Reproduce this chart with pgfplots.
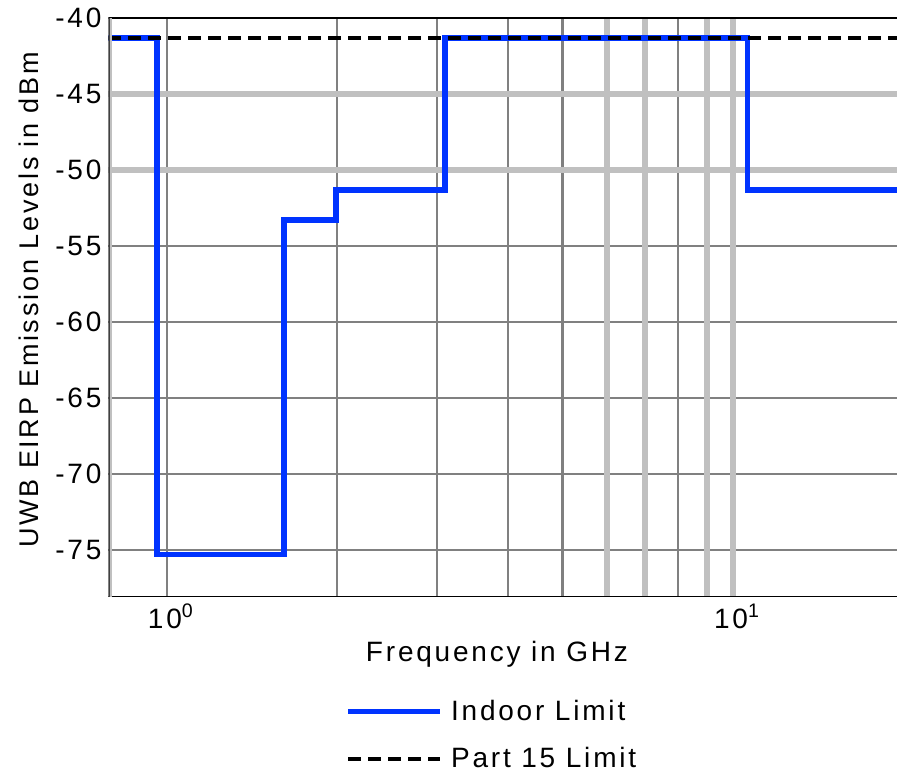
\documentclass[border=0pt]{standalone}
\usepackage{pgfplots}
\pgfplotsset{compat=1.18}
\usepackage{fontspec}
\setmainfont{Liberation Sans}[LetterSpace=10]
\definecolor{uwbblue}{HTML}{0033FF}
\definecolor{gdark}{HTML}{808080}
\definecolor{glight}{HTML}{C0C0C0}
\begin{document}
\begin{tikzpicture}[font=\fontsize{14}{17}\selectfont]
\begin{axis}[
  scale only axis, width=394.25pt, height=289.5pt,
  xmode=log, xmin=0.789, xmax=19.48, ymin=-78.1, ymax=-40,
  axis line style={draw=none},
  major tick length=0pt, minor tick length=0pt,
  xtick={1,10}, xticklabels={10\textsuperscript{0},10\textsuperscript{1}},
  xticklabel style={xshift=2pt},
  minor xtick={1,2,3,4,5,8},
  ytick={-75,-70,-65,-60,-55,-50,-45,-40},
  yticklabels={-75,-70,-65,-60,-55,-50,-45,-40},
  minor ytick={-75,-70,-65,-60,-55},
  xmajorgrids=false, ymajorgrids=false,
  xminorgrids=true, yminorgrids=true,
  minor grid style={color=gdark, line width=1.2pt},
  extra x ticks={6,7,9,10}, extra x tick labels={},
  extra x tick style={xmajorgrids=true, major grid style={color=glight, line width=3pt}},
  extra y ticks={-50,-45}, extra y tick labels={},
  extra y tick style={ymajorgrids=true, major grid style={color=glight, line width=3pt}},
  xlabel={Frequency in GHz},
  xlabel style={at={(axis description cs:0.4927,-0.076)}, anchor=north, inner sep=0pt},
  ylabel={UWB EIRP Emission Levels in dBm},
  ylabel style={at={(axis description cs:0,0.513)}, anchor=south, yshift=34.75pt, inner sep=0pt,
    font=\fontsize{13.5}{16}\selectfont},
  legend style={draw=none, fill=none, at={(axis description cs:0.3,-0.17)}, anchor=north west,
    inner sep=0pt, row sep=8pt, font=\fontsize{14}{17}\selectfont,
    /tikz/every even column/.append style={column sep=0pt}},
  legend cell align=left,
  legend image code/.code={\draw[#1] (0pt,0pt) -- (46pt,0pt);},
]
\addplot[color=uwbblue, line width=2.8pt, const plot, forget plot] coordinates {
 (0.789,-41.3) (0.96,-75.3) (1.61,-53.3) (1.99,-51.3) (3.1,-41.3) (10.6,-51.3) (19.48,-51.3)};
\addlegendimage{color=uwbblue, line width=2.8pt}
\addlegendentry{\hspace{2pt}Indoor Limit}
\addplot[black, line width=2.2pt, dash pattern=on 6.5pt off 3.5pt] coordinates {
 (0.789,-41.3) (19.48,-41.3)};
\addlegendentry{\hspace{2pt}Part 15 Limit}
\draw[black, line width=1.3pt] (rel axis cs:0,1) -- (rel axis cs:1,1);
\draw[black, line width=1.3pt] (rel axis cs:0,0) -- (rel axis cs:1,0);
\draw[glight, line width=1pt] ([xshift=1.5pt]rel axis cs:0,0) -- ([xshift=1.5pt]rel axis cs:0,1);
\draw[black!75, line width=1.3pt] (rel axis cs:0,0) -- (rel axis cs:0,1);
\coordinate (sw) at (rel axis cs:0,0);
\coordinate (ne) at (rel axis cs:1,1);
\end{axis}
\pgfresetboundingbox
\path[use as bounding box] ([shift={(-54.25pt,-87.5pt)}]sw) rectangle ([shift={(0pt,9pt)}]ne);
\end{tikzpicture}
\end{document}
